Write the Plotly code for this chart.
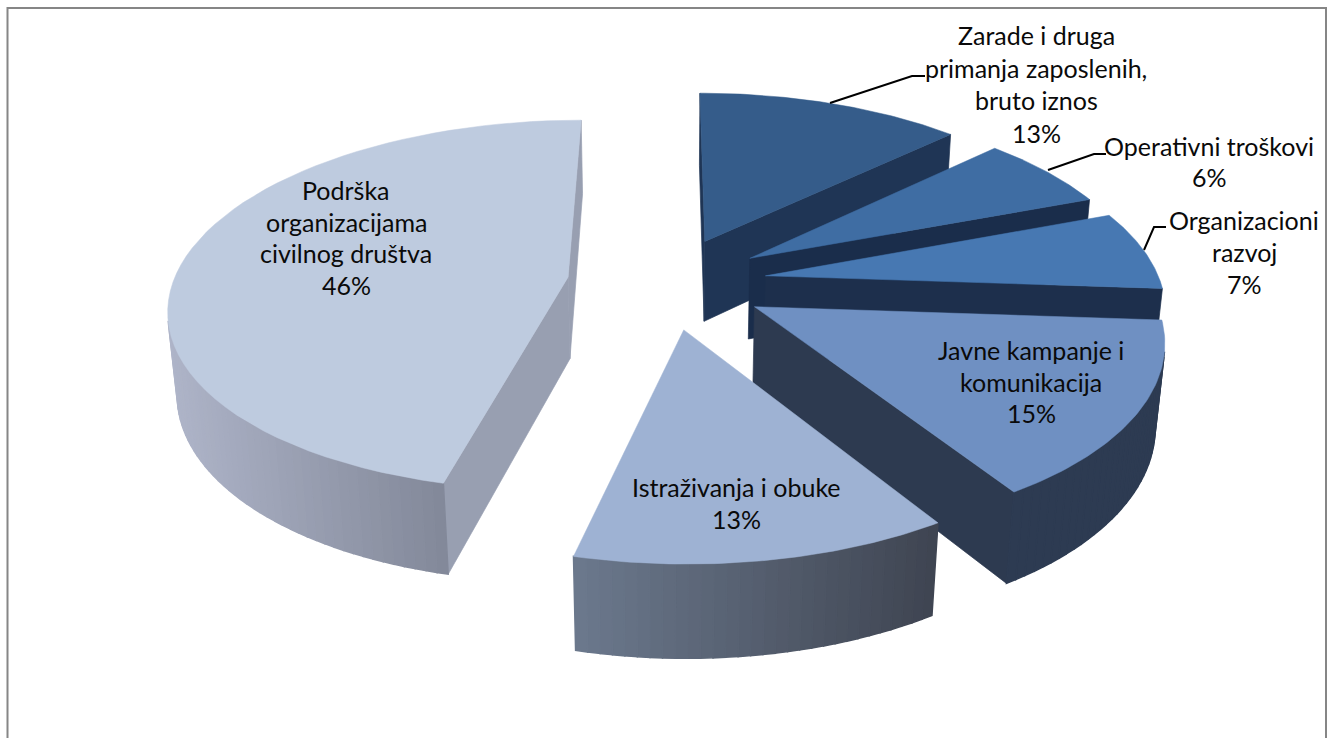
import math
import plotly.graph_objects as go

categories = ["Zarade i druga primanja zaposlenih, bruto iznos", "Operativni troškovi",
              "Organizacioni razvoj", "Javne kampanje i komunikacija",
              "Istraživanja i obuke", "Podrška organizacijama civilnog društva"]
values = [12.8, 6.45, 6.85, 15.0, 12.65, 46.25]
top_colors = ["#355C8A", "#3F6DA3", "#4778B2", "#6F90C2", "#9EB2D3", "#BECBDF"]
wall_dark = ["#1F3555", "#1A2D4B", "#1D2F4C", "#2D3B52", "#3F4552", "#83899A"]
wall_light = ["#1F3555", "#1A2D4B", "#1D2F4C", "#2D3B52", "#6B788C", "#AEB4C8"]
radial_colors = ["#1F3555", "#1A2D4B", "#1D2F4C", "#2D3A50", "#3F4552", "#989FB1"]
draw_order = [0, 1, 2, 3, 5, 4]

label_lines = [
    ["Zarade i druga", "primanja zaposlenih,", "bruto iznos", "13%"],
    ["Operativni troškovi", "6%"],
    ["Organizacioni", "razvoj", "7%"],
    ["Javne kampanje i", "komunikacija", "15%"],
    ["Istraživanja i obuke", "13%"],
    ["Podrška", "organizacijama", "civilnog društva", "46%"],
]
label_x = [1036, 1209, 1244, 1031, 736, 346]
label_y = [35, 146, 220, 350, 487, 190]
line_pitch = [32.6, 31, 32, 31.5, 32, 31.7]
leaders = [
    [(830, 103), (912, 76), (925, 76)],
    [(1048, 170), (1094, 154), (1106, 154)],
    [(1144, 250), (1154, 227), (1166, 227)],
]

# projection of the tilted, exploded pie
CX, CY = 667, 282.5
R, EXPLODE, HEIGHT = 395, 100, 94
EL = math.radians(27.5)
DIST = 2300
S, C = math.sin(EL), math.cos(EL)
CAM = (0, -DIST * C, DIST * S)


def project(x, y, z):
    d = DIST + y * C - z * S
    return CX + DIST * x / d, CY - DIST * (y * S + z * C) / d


def hexmix(a, b, t):
    ca = [int(a[i:i + 2], 16) for i in (1, 3, 5)]
    cb = [int(b[i:i + 2], 16) for i in (1, 3, 5)]
    return "rgb(%d,%d,%d)" % tuple(round(p + (q - p) * t) for p, q in zip(ca, cb))


fig = go.Figure()


def poly(points, color, width=1.5):
    xs, ys = zip(*points)
    fig.add_trace(go.Scatter(x=list(xs) + [xs[0]], y=list(ys) + [ys[0]], mode="lines",
                             fill="toself", fillcolor=color,
                             line=dict(color=color, width=width),
                             hoverinfo="skip", showlegend=False))


def faces(n, p):
    return sum(n[i] * (CAM[i] - p[i]) for i in range(3)) > 0


total = sum(values)
edges = [0]
for v in values:
    edges.append(edges[-1] + v / total * 360)

for i in draw_order:
    a0, a1 = math.radians(edges[i]), math.radians(edges[i + 1])
    mid = (a0 + a1) / 2
    ox, oy = EXPLODE * math.sin(mid), EXPLODE * math.cos(mid)
    rim = lambda a: (ox + R * math.sin(a), oy + R * math.cos(a))
    # radial walls
    for a, sign in ((a0, -1), (a1, 1)):
        n = (sign * math.cos(a), -sign * math.sin(a), 0)
        rx, ry = rim(a)
        if faces(n, (ox, oy, 0)):
            poly([project(ox, oy, 0), project(rx, ry, 0),
                  project(rx, ry, -HEIGHT), project(ox, oy, -HEIGHT)], radial_colors[i], 0.7)
    # outer wall, in small steps shaded by screen position
    steps = max(4, int((edges[i + 1] - edges[i]) / 1.5))
    segs = []
    for k in range(steps):
        b0 = a0 + (a1 - a0) * k / steps
        b1 = a0 + (a1 - a0) * (k + 1) / steps
        bm = (b0 + b1) / 2
        if faces((math.sin(bm), math.cos(bm), 0), (*rim(bm), -HEIGHT / 2)):
            segs.append((b0, b1, project(*rim(bm), 0)[0]))
    if segs:
        xmin = min(s[2] for s in segs)
        xmax = max(s[2] for s in segs)
        for b0, b1, xm in segs:
            p0, p1 = rim(b0), rim(b1)
            t = (xmax - xm) / max(xmax - xmin, 1)
            poly([project(*p0, 0), project(*p1, 0), project(*p1, -HEIGHT), project(*p0, -HEIGHT)],
                 hexmix(wall_dark[i], wall_light[i], t))
    # top face
    arc = [project(*rim(a0 + (a1 - a0) * k / 60), 0) for k in range(61)]
    poly([project(ox, oy, 0)] + arc, top_colors[i], 0.5)

for path in leaders:
    fig.add_trace(go.Scatter(x=[p[0] for p in path], y=[p[1] for p in path], mode="lines",
                             line=dict(color="black", width=2),
                             hoverinfo="skip", showlegend=False))

annotations = []
for lines, x, y, pitch in zip(label_lines, label_x, label_y, line_pitch):
    for j, line in enumerate(lines):
        annotations.append(dict(x=x, y=y + j * pitch, text=line, showarrow=False,
                                xanchor="center", yanchor="middle",
                                font=dict(family="Lato", size=25, color="#0A0A0A")))

fig.update_layout(
    width=1331, height=738, autosize=False,
    margin=dict(l=0, r=0, t=0, b=0),
    paper_bgcolor="white", plot_bgcolor="white", showlegend=False,
    xaxis=dict(range=[0, 1331], visible=False, fixedrange=True),
    yaxis=dict(range=[738, 0], visible=False, fixedrange=True),
    annotations=annotations,
    shapes=[dict(type="path", path="M 7.5 738 L 7.5 8 L 1326 8 L 1326 738",
                 line=dict(color="#868686", width=2))],
)
fig.write_html("out.html", config={"displayModeBar": False},
               post_script="document.body.style.margin='0';document.body.style.overflow='hidden';")
